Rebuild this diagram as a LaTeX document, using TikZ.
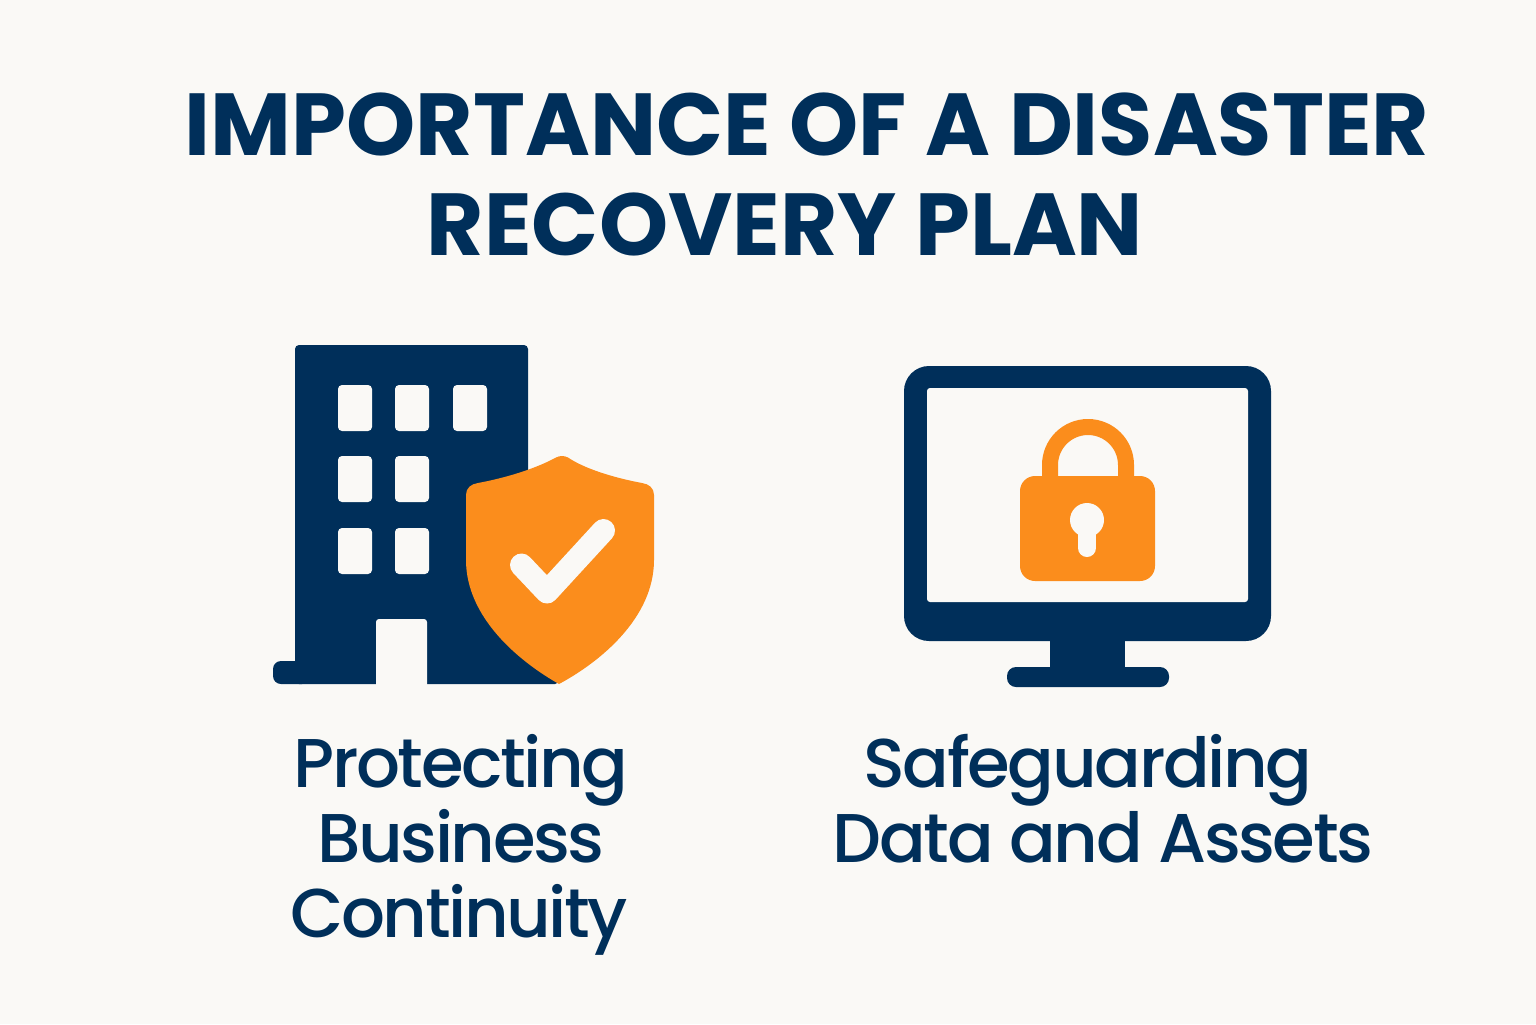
\documentclass[tikz,border=0pt]{standalone}
\usepackage{fontspec}
\setmainfont{Poppins}
\newfontfamily\captionfont[LetterSpace=-3.5]{Poppins Medium}
\definecolor{navy}{HTML}{002F5A}
\definecolor{amber}{HTML}{FB8D1C}
\definecolor{paper}{HTML}{FAF9F6}
\tikzset{
  titleline/.style={navy, anchor=base, inner sep=0pt, font=\fontsize{44}{44}\selectfont\bfseries},
  caption/.style={navy, anchor=base, inner sep=0pt, font=\fontsize{34.5}{34.5}\captionfont},
}
\begin{document}
\begin{tikzpicture}[x=0.5pt,y=-0.5pt]
\fill[paper] (0,0) rectangle (1536,1024);
\useasboundingbox (0,0) rectangle (1536,1024);
\node[titleline] (titleA) at (807,155) {IMPORTANCE OF A DISASTER};
\node[titleline] (titleB) at (785,255) {RECOVERY PLAN};
% building
\fill[navy, rounded corners=4pt] (273,684) -- (273,661) -- (310,661) -- (310,684) -- cycle;
\fill[navy, rounded corners=2pt] (295,684) -- (295,345) -- (528,345) -- (528,500) -- (520,600) -- (559,684) -- cycle;
\fill[navy] (295,670) rectangle (420,684);
\fill[paper, rounded corners=1.5pt] (376,690) -- (376,619) -- (427,619) -- (427,690) -- cycle;
\fill[paper] (370,684.5) rectangle (435,695);
\foreach \wx/\wy in {338/385,395/385,453/385,338/456,395/456,338/528,395/528}
  \fill[paper, rounded corners=2pt] (\wx,\wy) rectangle ++(34,46);
% shield
\fill[amber] (556,457.5) .. controls (535,469) and (505,478) .. (478,483) .. controls (471,484) and (466,488) .. (466,495) -- (466,560) .. controls (466,618) and (520,662) .. (559,684) .. controls (600,662) and (654,618) .. (654,560) -- (654,495) .. controls (654,488) and (649,484) .. (642,483) .. controls (615,478) and (585,469) .. (568,457.5) .. controls (564,455.5) and (560,455.5) .. (556,457.5) -- cycle;
\draw[paper, line width=11.5pt, line cap=round, line join=round] (521.5,565) -- (547,592) -- (603.5,530.5);
% monitor
\fill[navy, rounded corners=12.5pt] (904,366) rectangle (1271,641);
\fill[paper, rounded corners=1.5pt] (927,388) rectangle (1248,602);
\fill[navy] (1050,630) rectangle (1125,675);
\fill[navy, rounded corners=4.5pt] (1007,667) rectangle (1169,687);
% lock
\fill[amber, rounded corners=7.5pt] (1020,476) rectangle (1155,581);
\draw[amber, line width=8pt] (1050,480) -- (1050,465) .. controls (1050,444) and (1067,427) .. (1088,427) .. controls (1109,427) and (1126,444) .. (1126,465) -- (1126,480);
\fill[paper] (1087,520) circle[radius=17];
\draw[paper, line width=9pt, line cap=round] (1087,525) -- (1087,548);
\node[caption] (protA) at (461,787) {Protecting};
\node[caption] (protB) at (461,862) {Business};
\node[caption] (protC) at (459,937) {Continuity};
\node[caption] (safeA) at (1088,787) {Safeguarding};
\node[caption] (safeB) at (1103,862) {Data and Assets};
\end{tikzpicture}
\end{document}
